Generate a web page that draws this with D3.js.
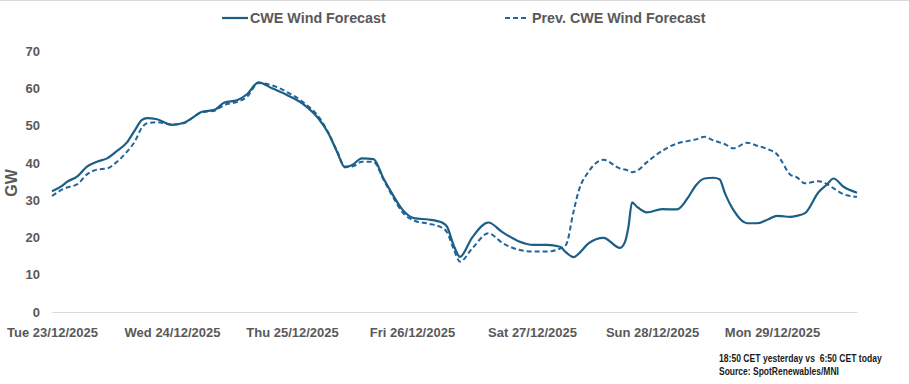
<!DOCTYPE html>
<html>
<head>
<meta charset="utf-8">
<script src="https://cdn.jsdelivr.net/npm/d3@7"></script>
<style>
  body { margin: 0; background: #fff; }
  svg { display: block; font-family: "Liberation Sans", Arial, sans-serif; }
</style>
</head>
<body>
<svg id="chart" width="909" height="384"></svg>
<script>
// hours since Tue 23/12/2025 00:00
const hours = [0, 2, 3, 5, 7, 9, 11, 13, 15, 16.5, 18, 19, 21, 24, 26.5, 28, 30, 32.5, 34.5, 37, 39, 41.3, 44, 47, 50.5, 53.3, 55.3, 57, 58.6, 60, 62, 64.3, 66.3, 68, 70, 72.6, 75.3, 78, 79, 80.3, 81.6, 84, 87.3, 90, 93.3, 96.3, 99, 101.6, 102.8, 104.3, 105.3, 107.3, 110.3, 113.6, 114.6, 115.3, 116, 117, 119, 122, 125, 127.3, 128.8, 130.5, 132.3, 133.5, 134.6, 136.3, 139, 141, 143.3, 145, 146, 147.6, 149, 150.6, 153.3, 155, 156.3, 158.3, 161];
const windForecast = [32.4, 33.8, 34.9, 36.3, 39.0, 40.3, 41.2, 43.2, 45.5, 48.6, 51.5, 52.0, 51.7, 50.2, 50.8, 52.0, 53.7, 54.2, 56.2, 56.8, 58.4, 61.6, 60.0, 58.2, 55.5, 51.9, 47.9, 43.0, 38.8, 39.4, 41.2, 41.0, 35.8, 31.8, 27.6, 25.1, 24.8, 24.0, 22.9, 18.0, 14.8, 19.9, 24.0, 21.5, 19.0, 18.0, 18.0, 17.5, 16.0, 14.7, 15.6, 18.4, 19.9, 17.2, 18.8, 22.9, 29.4, 28.2, 26.7, 27.6, 27.5, 30.9, 34.0, 35.8, 36.0, 35.6, 31.8, 27.3, 23.8, 23.8, 24.9, 25.8, 25.7, 25.5, 25.8, 26.5, 32.1, 34.2, 35.8, 33.6, 32.0];
const prevWindForecast = [31.1, 32.8, 33.4, 34.2, 36.9, 38.2, 38.5, 40.3, 43.0, 45.6, 49.5, 50.6, 50.9, 50.3, 50.7, 52.0, 53.6, 54.0, 55.6, 56.3, 57.7, 61.4, 60.8, 59.0, 56.0, 52.4, 48.0, 43.2, 39.0, 39.0, 40.3, 40.3, 35.5, 31.3, 26.9, 24.4, 23.7, 22.6, 21.4, 17.0, 13.5, 17.0, 21.1, 18.6, 16.7, 16.2, 16.2, 17.0, 18.0, 26.9, 32.3, 37.6, 40.8, 38.5, 38.2, 37.9, 37.5, 37.9, 40.2, 43.2, 45.2, 45.9, 46.3, 47.0, 46.0, 45.5, 45.0, 43.9, 45.4, 44.6, 43.6, 42.3, 40.3, 36.9, 36.1, 34.5, 35.1, 34.3, 33.2, 31.6, 30.9];

const dayHours = [0, 24, 48, 72, 96, 120, 144];
const dayLabels = ["Tue 23/12/2025", "Wed 24/12/2025", "Thu 25/12/2025", "Fri 26/12/2025", "Sat 27/12/2025", "Sun 28/12/2025", "Mon 29/12/2025"];
const yTicks = [0, 10, 20, 30, 40, 50, 60, 70];

const svg = d3.select('#chart');
const grey = '#595959';

const margin = { left: 52, right: 52, top: 51, bottom: 72 };
const w = 909 - margin.left - margin.right;
const h = 384 - margin.top - margin.bottom;

const xScale = d3.scaleLinear().domain([0, 161]).range([0, w]);
const yScale = d3.scaleLinear().domain([0, 70]).range([h, 0]);

// top frame line
svg.append('line')
    .attr('x1', 0).attr('x2', 909).attr('y1', 0.5).attr('y2', 0.5)
    .attr('stroke', '#d9d9d9');

const chartGroup = svg.append('g')
    .attr('transform', `translate(${margin.left},${margin.top})`);

// y axis (labels only)
const yAxis = d3.axisLeft(yScale).tickValues(yTicks).tickSize(0).tickPadding(12);
chartGroup.append('g')
    .classed('axis y', true)
    .call(yAxis)
    .call(g => g.select('.domain').remove())
    .call(g => g.selectAll('text')
        .attr('fill', grey)
        .style('font-size', '13px')
        .style('font-weight', 'bold'));

// x axis
const xAxis = d3.axisBottom(xScale).tickValues(dayHours).tickSize(0).tickPadding(16)
    .tickFormat((d, i) => dayLabels[i]);
chartGroup.append('g')
    .attr('transform', `translate(0,${h})`)
    .classed('axis x', true)
    .call(xAxis)
    .call(g => g.select('.domain').attr('stroke', '#d9d9d9').attr('stroke-width', 1))
    .call(g => g.selectAll('text')
        .attr('fill', grey)
        .style('font-size', '13px')
        .style('font-weight', 'bold'));

// GW title
svg.append('text')
    .attr('transform', 'translate(17,183) rotate(-90)')
    .attr('text-anchor', 'middle')
    .attr('fill', grey)
    .style('font-size', '16px')
    .style('font-weight', 'bold')
    .text('GW');

const line = d3.line()
    .x(d => xScale(d[0]))
    .y(d => yScale(d[1]))
    .curve(d3.curveMonotoneX);

const prevData = hours.map((t, i) => [t, prevWindForecast[i]]);
const curData = hours.map((t, i) => [t, windForecast[i]]);

chartGroup.append('path')
    .datum(prevData)
    .attr('d', line)
    .attr('fill', 'none')
    .attr('stroke', '#22649c')
    .attr('stroke-width', 2)
    .attr('stroke-dasharray', '5,3');

chartGroup.append('path')
    .datum(curData)
    .attr('d', line)
    .attr('fill', 'none')
    .attr('stroke', '#1b5e86')
    .attr('stroke-width', 2.2);

// legend
const legend = svg.append('g').style('font-weight', 'bold').style('font-size', '14.3px');
legend.append('line')
    .attr('x1', 222).attr('x2', 248).attr('y1', 18).attr('y2', 18)
    .attr('stroke', '#1b5e86').attr('stroke-width', 2.2);
legend.append('text')
    .attr('x', 250).attr('y', 18).attr('dy', '0.35em')
    .attr('fill', grey)
    .text('CWE Wind Forecast');
legend.append('line')
    .attr('x1', 505).attr('x2', 528).attr('y1', 18).attr('y2', 18)
    .attr('stroke', '#22649c').attr('stroke-width', 2).attr('stroke-dasharray', '5,3');
legend.append('text')
    .attr('x', 532).attr('y', 18).attr('dy', '0.35em')
    .attr('fill', grey)
    .text('Prev. CWE Wind Forecast');

// footnote - narrow text, squeezed horizontally
const noteLines = [
    { text: '18:50 CET yesterday vs  6:50 CET today', y: 362, width: 163 },
    { text: 'Source: SpotRenewables/MNI', y: 375, width: 120 }
];
noteLines.forEach(n => {
    const g = svg.append('g').attr('transform', `translate(719,${n.y})`);
    const t = g.append('text')
        .attr('x', 0).attr('y', 0)
        .attr('fill', '#1a1a1a')
        .style('font-size', '10.5px')
        .style('font-weight', 'bold')
        .style('white-space', 'pre')
        .text(n.text);
    const natural = t.node().getComputedTextLength();
    g.attr('transform', `translate(719,${n.y}) scale(${n.width / natural},1)`);
});
</script>
</body>
</html>
